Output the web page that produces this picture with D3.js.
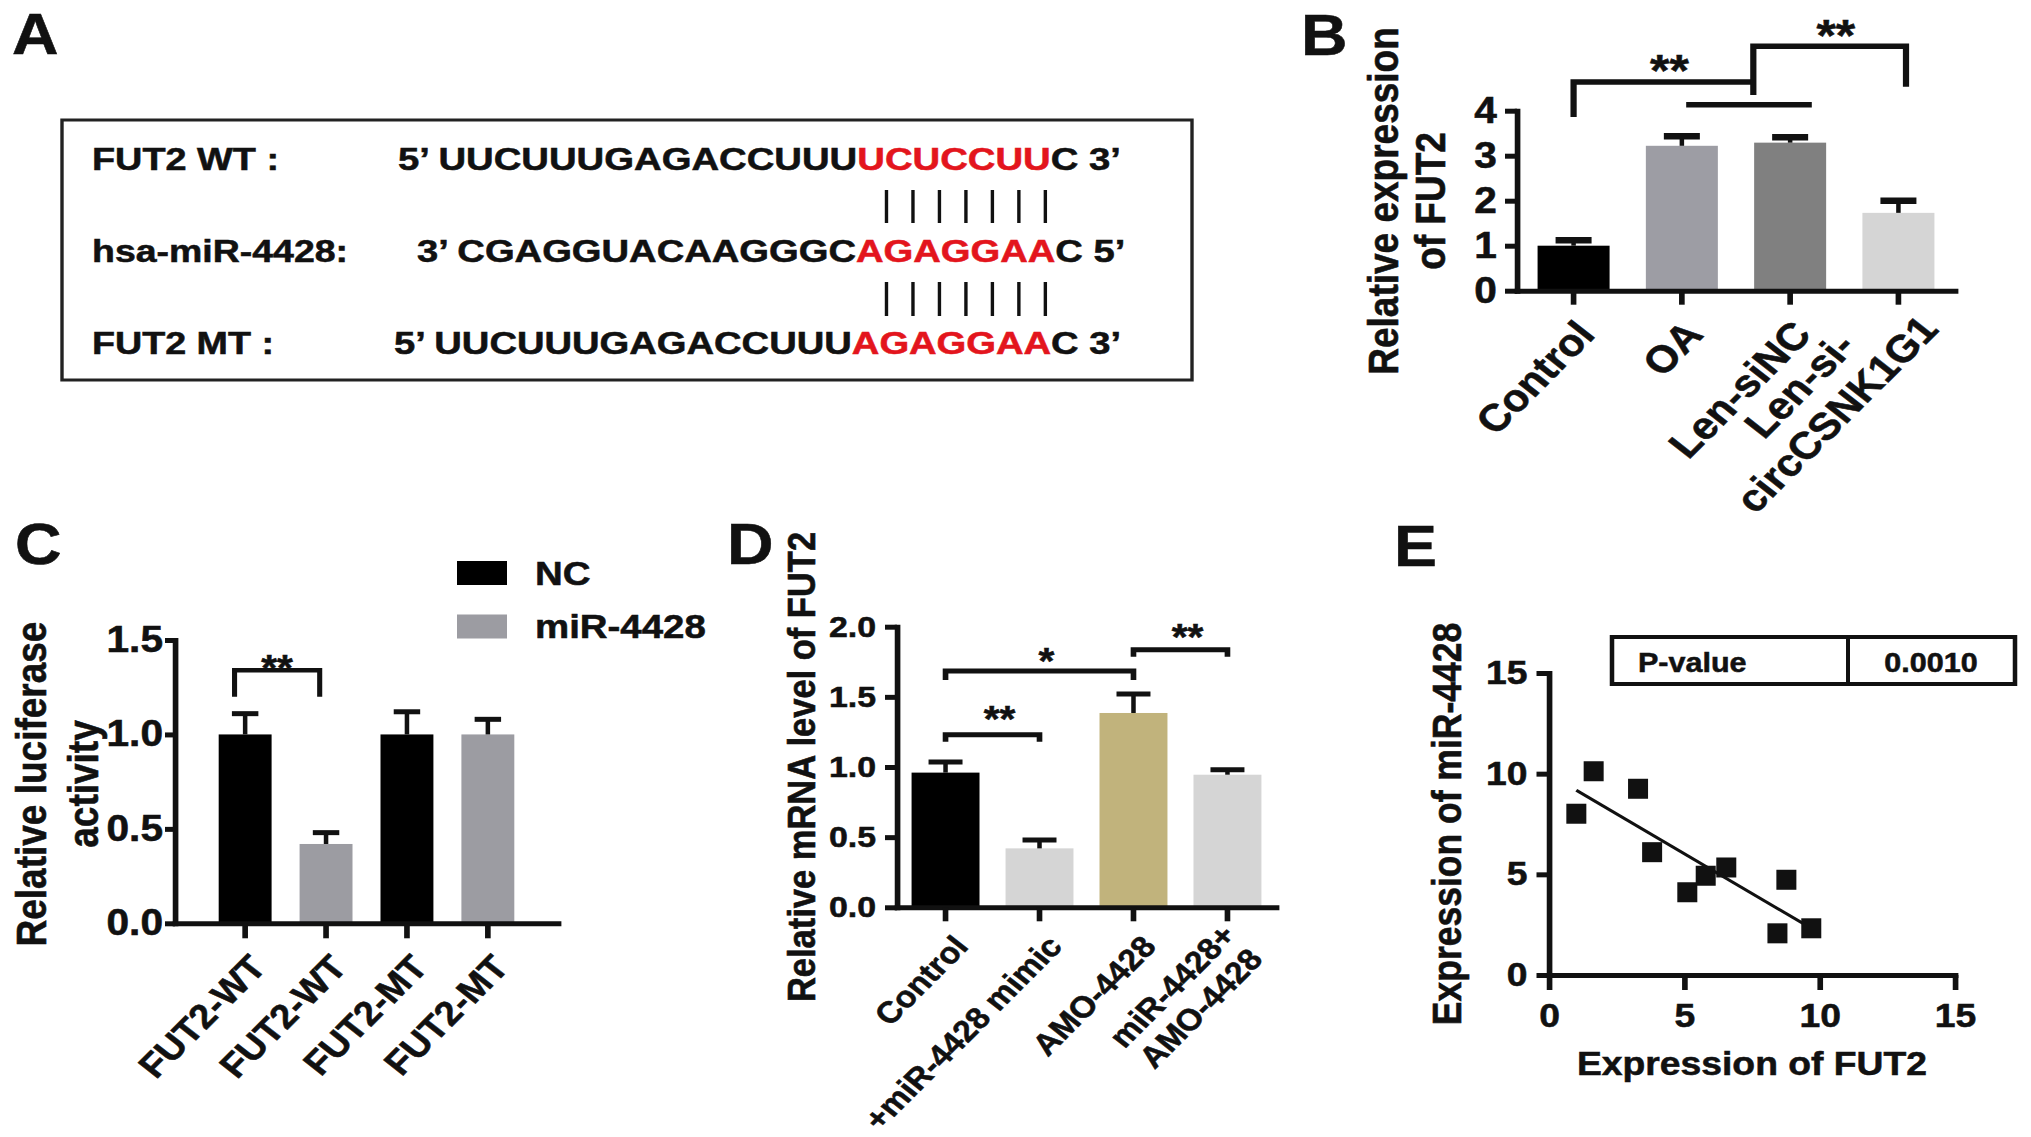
<!DOCTYPE html>
<html>
<head>
<meta charset="utf-8">
<script src="https://cdn.jsdelivr.net/npm/d3@7/dist/d3.min.js"></script>
<style>
html,body{margin:0;padding:0;background:#fff;}
svg{display:block;}
</style>
</head>
<body>
<svg id="fig" width="2031" height="1137" xmlns="http://www.w3.org/2000/svg"></svg>
<script>
// ================= DATA =================
const panelLetters = ["A", "B", "C", "D", "E"];

// Panel A: sequence alignment
const seqNames = ["FUT2 WT :", "hsa-miR-4428:", "FUT2 MT :"];
const seqHead  = ["5’ UUCUUUGAGACCUUU", "3’ CGAGGUACAAGGGC", "5’ UUCUUUGAGACCUUU"];
const seqSeed  = ["UCUCCUU", "AGAGGAA", "AGAGGAA"];
const seqTail  = ["C 3’", "C 5’", "C 3’"];

// Panel B
const bCategories = ["Control", "OA", "Len-siNC", "Len-si-\ncircCSNK1G1"];
const bMeans  = [1.00, 3.22, 3.29, 1.73];
const bErrors = [0.12, 0.21, 0.12, 0.27];
const bTicks  = [0, 1, 2, 3, 4];
const bYLabel = ["Relative expression", "of FUT2"];

// Panel C
const cCategories = ["FUT2-WT", "FUT2-WT", "FUT2-MT", "FUT2-MT"];
const cSeries  = ["NC", "miR-4428", "NC", "miR-4428"];
const cMeans   = [1.00, 0.42, 1.00, 1.00];
const cErrors  = [0.11, 0.06, 0.12, 0.08];
const cTicks   = [0, 0.5, 1.0, 1.5];
const cLegend  = ["NC", "miR-4428"];
const cYLabel  = ["Relative luciferase", "activity"];

// Panel D
const dCategories = ["Control", "+miR-4428 mimic", "AMO-4428", "miR-4428+\nAMO-4428"];
const dMeans  = [0.96, 0.42, 1.385, 0.945];
const dErrors = [0.075, 0.06, 0.135, 0.035];
const dTicks  = [0, 0.5, 1.0, 1.5, 2.0];
const dYLabel = "Relative mRNA level of FUT2";

// Panel E
const eFUT2 = [1.01, 1.65, 3.29, 3.81, 5.11, 5.79, 6.55, 8.77, 8.44, 9.69];
const eMiR  = [8.01, 10.12, 9.25, 6.10, 4.11, 4.93, 5.34, 4.73, 2.07, 2.32];
const eTicks = [0, 5, 10, 15];
const eTable = ["P-value", "0.0010"];
const eXLabel = "Expression of FUT2";
const eYLabel = "Expression of miR-4428";

// Significance annotations (values in data units)
const cSig = [{a: 0, b: 1, level: 1.34, drop: 1.20, label: "**", labelY: 1.39}];
const dSig = [
  {a: 0, b: 1, level: 1.23, drop: 1.18, label: "**", labelY: 1.39},
  {a: 0, b: 2, level: 1.685, drop: 1.62, label: "*", labelY: 1.81},
  {a: 2, b: 3, level: 1.835, drop: 1.785, label: "**", labelY: 1.975}
];

// ================= SETUP =================
const SX = 1.13;               // horizontal stretch of the original figure
const X = px => px / SX;       // page x -> inner x
const ROT = -Math.atan(SX) * 180 / Math.PI;   // appears as 45 deg on the page
const FONT = '"Liberation Sans", Arial, "DejaVu Sans", sans-serif';
const INK = "#111";
const TS = 0.55;               // slight text stroke to mimic heavy print

const svg = d3.select("#fig");
svg.append("rect").attr("width", 2031).attr("height", 1137).attr("fill", "#fff");
const root = svg.append("g").attr("transform", `scale(${SX},1)`)
  .attr("font-family", FONT).attr("font-weight", "bold").attr("fill", INK);

function txt(g, s, x, y, fs, anchor) {
  return g.append("text").text(s).attr("x", x).attr("y", y)
    .attr("font-size", fs).attr("text-anchor", anchor || "start")
    .attr("stroke", INK).attr("stroke-width", TS);
}

// panel letters
const letterPos = [[12, 54], [1301, 55], [15, 564], [727, 564], [1394, 566]];
panelLetters.forEach((L, i) => txt(root, L, X(letterPos[i][0]), letterPos[i][1], 57));

// ================= PANEL A =================
(function () {
  const g = root.append("g");
  g.append("rect").attr("x", X(62)).attr("y", 120).attr("width", X(1192) - X(62)).attr("height", 260)
    .attr("fill", "none").attr("stroke", "#222").attr("stroke-width", 3);
  const rowBase = [170, 262, 354];
  const nameX = 92, nameW = [187, 256, 182];
  const seqX = [398, 417, 394], seqW = [723, 708, 727];
  const fs = 32;
  const seedBounds = [];
  seqNames.forEach((nm, r) => {
    const gn = g.append("g");
    const t = txt(gn, nm, 0, 0, fs);
    const w = t.node().getComputedTextLength();
    gn.attr("transform", `translate(${X(nameX)},${rowBase[r]}) scale(${X(nameW[r]) / w},1)`);

    const gs = g.append("g");
    const ts = gs.append("text").attr("font-size", fs).attr("x", 0).attr("y", 0)
      .attr("stroke", INK).attr("stroke-width", TS);
    ts.append("tspan").text(seqHead[r]);
    ts.append("tspan").attr("fill", "#e3151d").attr("stroke", "#e3151d").text(seqSeed[r]);
    ts.append("tspan").text(seqTail[r]);
    const ws = ts.node().getComputedTextLength();
    const k = X(seqW[r]) / ws;
    gs.attr("transform", `translate(${X(seqX[r])},${rowBase[r]}) scale(${k},1)`);
    const n0 = seqHead[r].length;
    const s0 = ts.node().getStartPositionOfChar(n0).x;
    const sl = ts.node().getSubStringLength(n0, seqSeed[r].length);
    seedBounds.push([X(seqX[r]) + s0 * k, X(seqX[r]) + (s0 + sl) * k]);
  });
  // base-pairing bars anchored to the miRNA seed
  const [s, e] = seedBounds[1];
  const bars = d3.range(seqSeed[1].length).map(i => s + (e - s) * (0.153 + i * 0.797 / (seqSeed[1].length - 1)));
  [[190, 223], [282, 316]].forEach(([y1, y2]) => {
    g.selectAll(null).data(bars).join("line")
      .attr("x1", d => d).attr("x2", d => d).attr("y1", y1).attr("y2", y2)
      .attr("stroke", INK).attr("stroke-width", 3);
  });
})();

// ================= GENERIC BAR PANEL =================
function styleAxis(sel, fs) {
  sel.attr("font-family", FONT).attr("font-size", fs).attr("font-weight", "bold");
  sel.selectAll("path.domain").attr("stroke", INK).attr("stroke-width", 5).attr("stroke-linecap", "square");
  sel.selectAll(".tick line").attr("stroke", INK).attr("stroke-width", 5);
  sel.selectAll(".tick text").attr("fill", INK).attr("stroke", INK).attr("stroke-width", TS);
}

function barPanel(o) {
  const g = root.append("g");
  const n = o.means.length;
  const x = d3.scaleBand().domain(d3.range(n)).range([X(o.x0), X(o.x1)])
    .paddingInner(o.pi).paddingOuter(o.po);
  const y = d3.scaleLinear().domain(o.ydom).range([o.yb, o.yt]);
  const bw = x.bandwidth();
  const cx = i => x(i) + bw / 2;

  g.selectAll("rect.bar").data(o.means).join("rect").attr("class", "bar")
    .attr("x", (d, i) => x(i)).attr("y", d => y(d)).attr("width", bw)
    .attr("height", d => y(0) - y(d)).attr("fill", (d, i) => o.colors[i]);

  // error bars (upper only)
  g.selectAll("line.stem").data(o.means).join("line").attr("class", "stem")
    .attr("x1", (d, i) => cx(i)).attr("x2", (d, i) => cx(i))
    .attr("y1", d => y(d)).attr("y2", (d, i) => y(d + o.errors[i]))
    .attr("stroke", INK).attr("stroke-width", 4);
  g.selectAll("line.cap").data(o.means).join("line").attr("class", "cap")
    .attr("x1", (d, i) => cx(i) - bw * 0.25).attr("x2", (d, i) => cx(i) + bw * 0.25)
    .attr("y1", (d, i) => y(d + o.errors[i])).attr("y2", (d, i) => y(d + o.errors[i]))
    .attr("stroke", INK).attr("stroke-width", o.capW || 5);

  const ya = d3.axisLeft(y).tickValues(o.ticks).tickFormat(o.fmt)
    .tickSize(X(o.ytick)).tickSizeOuter(0).tickPadding(X(o.ypad));
  styleAxis(g.append("g").attr("transform", `translate(${X(o.x0)},0)`).call(ya), o.tfs);
  const xa = d3.axisBottom(x).tickSize(o.xtick).tickSizeOuter(0).tickFormat("");
  styleAxis(g.append("g").attr("transform", `translate(0,${y(0)})`).call(xa), o.tfs);

  // rotated category labels (top-right corner of the text block sits below the tick)
  const cap = 0.716 * o.lfs, lh = o.lfs * o.lhf;
  const ml = o.mlShift || [0, 0];
  o.cats.forEach((c, i) => {
    const lines = c.split("\n");
    const gg = g.append("g")
      .attr("transform", `translate(${cx(i) + X(o.ldx)},${y(0) + o.ldy}) rotate(${ROT})`);
    const ts = lines.map(ln => txt(gg, ln, 0, 0, o.lfs));
    const W = d3.max(ts, t => t.node().getComputedTextLength());
    ts.forEach((t, j) => {
      if (lines.length === 1) t.attr("text-anchor", "end").attr("y", cap);
      else t.attr("text-anchor", "middle").attr("x", -W / 2 + ml[0])
        .attr("y", cap + j * lh - (lines.length - 1) * lh / 2 + ml[1]);
    });
  });
  return {g, x, y, cx, bw};
}

function sigLabel(g, s, xc, yc, fs) {
  txt(g, s, xc, yc + 0.56 * fs, fs, "middle");
}

// ================= PANEL B =================
(function () {
  const P = barPanel({
    means: bMeans, errors: bErrors, cats: bCategories,
    colors: ["#000000", "#9d9da4", "#808080", "#d5d5d5"],
    x0: 1517, x1: 1955, pi: 0.335, po: 0.19,
    ydom: [0, 4], yb: 290.7, yt: 110.7, ticks: bTicks, fmt: d3.format("d"),
    ytick: 12, ypad: 8, xtick: 14, tfs: 36, capW: 6.5,
    lfs: 38, lhf: 1.15, ldx: 0, ldy: 27, mlShift: [15, -13]
  });
  const {g, y, cx, x} = P;
  const step = x.step();
  txt(g, bYLabel[0], 0, 0, 37, "middle").attr("transform", `translate(${X(1398)},201) rotate(-90)`);
  txt(g, bYLabel[1], 0, 0, 37, "middle").attr("transform", `translate(${X(1445)},201) rotate(-90)`);
  const xJ = (cx(1) + cx(2)) / 2 + 0.16 * step;
  const path = d => g.append("path").attr("d", d).attr("fill", "none")
    .attr("stroke", INK).attr("stroke-width", 5.5);
  path(`M${cx(0)},${y(3.86)}V${y(4.64)}H${xJ}`);
  path(`M${xJ},${y(4.35)}V${y(5.43)}H${cx(3) + 0.07 * step}V${y(4.53)}`);
  path(`M${cx(1) + 0.04 * step},${y(4.13)}H${cx(2) + 0.2 * step}`);
  sigLabel(g, "**", (cx(0) + xJ) / 2 + X(6), y(5.10), 44);
  sigLabel(g, "**", (xJ + cx(3)) / 2 + X(10), y(5.88), 44);
})();

// ================= PANEL C =================
(function () {
  const legendColors = {"NC": "#000000", "miR-4428": "#9c9ca2"};
  const P = barPanel({
    means: cMeans, errors: cErrors, cats: cCategories,
    colors: cSeries.map(s => legendColors[s]),
    x0: 175, x1: 558, pi: 0.346, po: 0.54,
    ydom: [0, 1.5], yb: 923.3, yt: 640, ticks: cTicks, fmt: d3.format(".1f"),
    ytick: 10, ypad: 2, xtick: 15, tfs: 36, capW: 5,
    lfs: 34, lhf: 1.15, ldx: 2, ldy: 29
  });
  const {g, y, cx, bw} = P;
  txt(g, cYLabel[0], 0, 0, 37, "middle").attr("transform", `translate(${X(46)},784) rotate(-90)`);
  txt(g, cYLabel[1], 0, 0, 37, "middle").attr("transform", `translate(${X(98)},784) rotate(-90)`);
  cLegend.forEach((s, i) => {
    const yy = [561, 614.5][i];
    g.append("rect").attr("x", X(457)).attr("y", yy).attr("width", X(50)).attr("height", 24)
      .attr("fill", legendColors[s]);
    txt(g, s, X(535), yy + 24, 34);
  });
  cSig.forEach(s => {
    const xa = cx(s.a) - 0.2 * bw, xb = cx(s.b) - 0.12 * bw;
    g.append("path").attr("d", `M${xa},${y(s.drop)}V${y(s.level)}H${xb}V${y(s.drop)}`)
      .attr("fill", "none").attr("stroke", INK).attr("stroke-width", 4.5);
    sigLabel(g, s.label, (xa + xb) / 2, y(s.labelY), 36);
  });
})();

// ================= PANEL D =================
(function () {
  const P = barPanel({
    means: dMeans, errors: dErrors, cats: dCategories,
    colors: ["#000000", "#d5d5d5", "#c1b37c", "#d5d5d5"],
    x0: 897, x1: 1276, pi: 0.277, po: 0.155,
    ydom: [0, 2], yb: 907.3, yt: 626.7, ticks: dTicks, fmt: d3.format(".1f"),
    ytick: 12, ypad: 9, xtick: 14, tfs: 30, capW: 5,
    lfs: 30, lhf: 1.12, ldx: 6, ldy: 26
  });
  const {g, y, cx} = P;
  txt(g, dYLabel, 0, 0, 34.5, "middle").attr("transform", `translate(${X(815)},767) rotate(-90)`);
  dSig.forEach(s => {
    const xa = cx(s.a), xb = cx(s.b);
    g.append("path").attr("d", `M${xa},${y(s.drop)}V${y(s.level)}H${xb}V${y(s.drop)}`)
      .attr("fill", "none").attr("stroke", INK).attr("stroke-width", 5);
    sigLabel(g, s.label, (xa + xb) / 2 + X(7), y(s.labelY), 36);
  });
})();

// ================= PANEL E =================
(function () {
  const g = root.append("g");
  const x = d3.scaleLinear().domain([0, 15]).range([X(1549), X(1955)]);
  const y = d3.scaleLinear().domain([0, 15]).range([975, 673]);
  const ya = d3.axisLeft(y).tickValues(eTicks).tickSize(X(12.5)).tickSizeOuter(0).tickPadding(X(9));
  styleAxis(g.append("g").attr("transform", `translate(${x(0)},0)`).call(ya), 33);
  const xa = d3.axisBottom(x).tickValues(eTicks).tickSize(15).tickSizeOuter(0).tickPadding(14);
  styleAxis(g.append("g").attr("transform", `translate(0,${y(0)})`).call(xa), 33);

  // regression line (least squares)
  const mx = d3.mean(eFUT2), my = d3.mean(eMiR);
  const sxy = d3.sum(eFUT2, (v, i) => (v - mx) * (eMiR[i] - my));
  const sxx = d3.sum(eFUT2, v => (v - mx) * (v - mx));
  const slope = sxy / sxx, icpt = my - slope * mx;
  const xr = d3.extent(eFUT2);
  g.append("line").attr("x1", x(xr[0])).attr("x2", x(xr[1]))
    .attr("y1", y(icpt + slope * xr[0])).attr("y2", y(icpt + slope * xr[1]))
    .attr("stroke", INK).attr("stroke-width", 3);

  const sz = 20;
  g.selectAll("rect.pt").data(eFUT2).join("rect").attr("class", "pt")
    .attr("x", d => x(d) - X(sz) / 2).attr("y", (d, i) => y(eMiR[i]) - sz / 2)
    .attr("width", X(sz)).attr("height", sz).attr("fill", INK);

  txt(g, eXLabel, X(1752), 1075, 33, "middle");
  txt(g, eYLabel, 0, 0, 35.5, "middle").attr("transform", `translate(${X(1461)},824) rotate(-90)`);

  // P-value table
  g.append("rect").attr("x", X(1612)).attr("y", 637).attr("width", X(2015) - X(1612)).attr("height", 47)
    .attr("fill", "none").attr("stroke", INK).attr("stroke-width", 4);
  g.append("line").attr("x1", X(1848)).attr("x2", X(1848)).attr("y1", 637).attr("y2", 684)
    .attr("stroke", INK).attr("stroke-width", 3.5);
  txt(g, eTable[0], X(1638), 672, 27);
  txt(g, eTable[1], X(1931), 672, 27, "middle");
})();
</script>
</body>
</html>
